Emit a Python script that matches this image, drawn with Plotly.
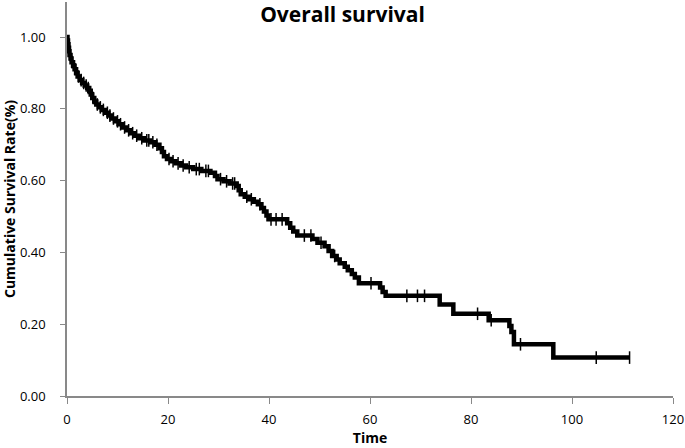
import plotly.graph_objects as go
import numpy as np

# Kaplan-Meier step data (time, survival after event)
event_times = [0, 0.1, 0.2, 0.3, 0.4, 0.5, 0.7, 0.9, 1.2, 1.5, 1.8, 2.1, 2.5, 3.0, 3.5, 4.0,
               4.4, 4.7, 5.0, 5.4, 5.8, 6.3, 6.9, 7.5, 8.2, 8.8, 9.5, 10.2, 11.0, 11.8, 12.6,
               13.4, 14.3, 15.3, 16.5, 17.5, 18.3, 18.8, 19.2, 19.8, 20.6, 21.5, 22.6, 23.6,
               25.0, 26.6, 28.4, 29.3, 29.8, 31.0, 32.2, 33.6, 34.0, 34.4, 35.2, 36.0, 37.0,
               37.8, 38.5, 39.0, 39.5, 39.9, 43.6, 44.2, 44.8, 45.6, 48.6, 49.6, 51.0, 51.8,
               52.5, 53.4, 54.0, 55.0, 55.6, 56.4, 57.0, 57.8, 62.0, 62.5, 63.1, 73.8, 76.5,
               83.5, 87.6, 88.0, 88.5, 96.3, 111.4]
survival = [1.000, 0.990, 0.980, 0.970, 0.960, 0.950, 0.940, 0.930, 0.920, 0.910, 0.900, 0.890,
            0.880, 0.872, 0.865, 0.858, 0.850, 0.840, 0.830, 0.820, 0.812, 0.804, 0.797, 0.789,
            0.781, 0.773, 0.765, 0.757, 0.748, 0.740, 0.732, 0.725, 0.718, 0.712, 0.707, 0.700,
            0.690, 0.680, 0.668, 0.660, 0.654, 0.648, 0.642, 0.637, 0.632, 0.627, 0.622, 0.613,
            0.604, 0.598, 0.592, 0.585, 0.573, 0.562, 0.555, 0.548, 0.541, 0.534, 0.524, 0.514,
            0.503, 0.492, 0.481, 0.469, 0.458, 0.447, 0.437, 0.427, 0.417, 0.404, 0.390, 0.380,
            0.370, 0.360, 0.350, 0.340, 0.330, 0.314, 0.302, 0.290, 0.279, 0.255, 0.229, 0.211,
            0.195, 0.178, 0.144, 0.107, 0.107]

censor_times = [0.2, 0.6, 1.0, 1.6, 2.3, 2.8, 3.3, 3.8, 4.2, 5.2, 6.0, 6.6, 7.2, 8.0, 8.5, 9.2,
                10.0, 10.6, 11.4, 12.2, 13.0, 13.8, 14.8, 15.8, 16.2, 17.0, 17.8, 20.2, 21.0,
                22.0, 23.0, 24.2, 25.6, 26.2, 27.5, 28.0, 30.4, 31.6, 32.8, 33.2, 35.6, 36.5,
                38.2, 40.4, 41.4, 42.6, 47.0, 48.3, 50.3, 53.0, 60.2, 67.3, 69.4, 70.8, 81.3,
                84.0, 89.8, 104.8, 111.4]

x_ticks = [0, 20, 40, 60, 80, 100, 120]
y_ticks = [0.0, 0.2, 0.4, 0.6, 0.8, 1.0]

et = np.array(event_times)
sv = np.array(survival)
censor_surv = [float(sv[np.searchsorted(et, t, side="right") - 1]) for t in censor_times]

fig = go.Figure()
fig.add_trace(go.Scatter(x=event_times, y=survival, mode="lines",
                         line=dict(color="black", width=4.5, shape="hv"),
                         showlegend=False, hoverinfo="skip"))
fig.add_trace(go.Scatter(x=censor_times, y=censor_surv, mode="markers",
                         marker=dict(symbol="line-ns-open", size=9, color="black",
                                     line=dict(color="black", width=1.5)),
                         showlegend=False))

font_family = "Open Sans, Lato, sans-serif"
axis_font = dict(family=font_family, size=13, color="black")
fig.update_layout(
    width=685, height=448,
    margin=dict(l=67, r=12, t=2, b=52, autoexpand=False),
    paper_bgcolor="white", plot_bgcolor="white",
    title=dict(text="<b>Overall survival</b>", x=0.5, xref="container",
               y=1 - 15 / 448, yref="container", yanchor="middle", xanchor="center",
               automargin=False,
               font=dict(family=font_family, size=21, color="black")),
    xaxis=dict(range=[0, 120], tickvals=x_ticks, ticks="outside", ticklen=6,
               tickcolor="#898989", showline=True, linecolor="#898989", linewidth=1.5,
               showgrid=False, zeroline=False, tickfont=axis_font, automargin=False,
               ticklabeloverflow="allow", ticklabelstandoff=5,
               title=dict(text="<b>Time</b>", standoff=6,
                          font=dict(family=font_family, size=14, color="black"))),
    yaxis=dict(range=[0, 1.0975], tickvals=y_ticks, tickformat=".2f", ticks="outside",
               ticklen=5, tickcolor="#898989", showline=True, linecolor="#898989",
               linewidth=1.5, showgrid=False, zeroline=False, tickfont=axis_font,
               automargin=False, ticklabelstandoff=12,
               title=dict(text="<b>Cumulative Survival Rate(%)</b>", standoff=6,
                          font=dict(family=font_family, size=14, color="black"))),
)

fig.write_html("out.html", config={"displayModeBar": False},
               post_script="document.body.style.margin='0px';")
